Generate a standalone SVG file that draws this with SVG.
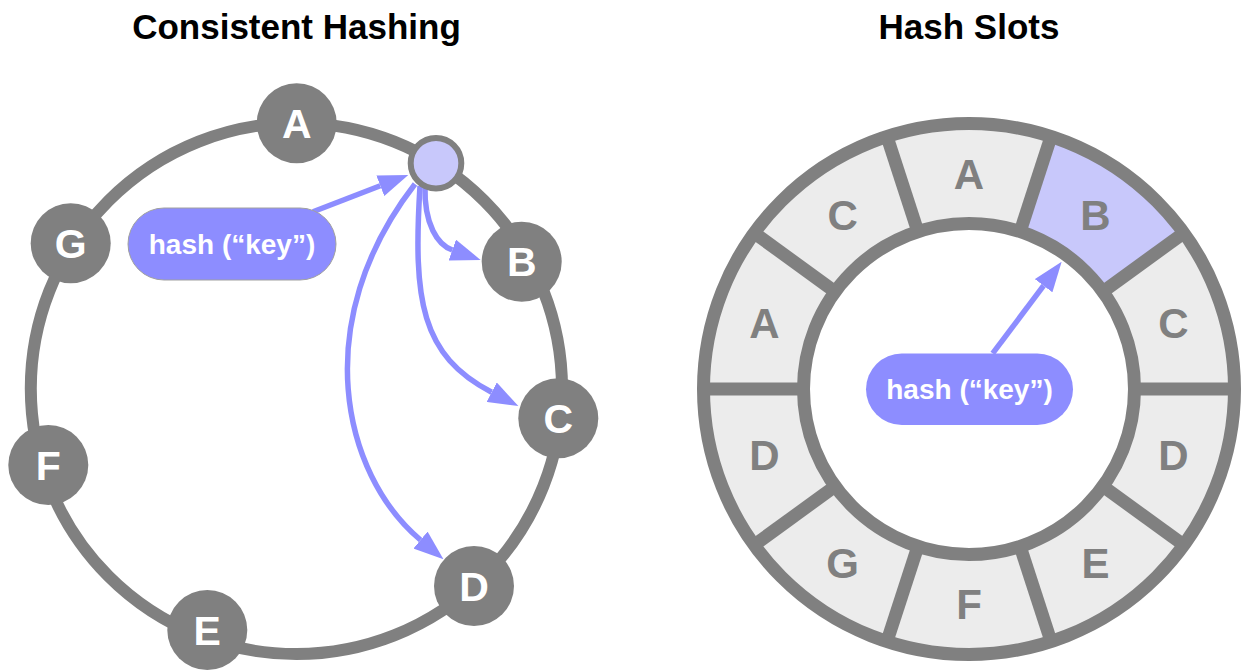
<svg xmlns="http://www.w3.org/2000/svg" width="1244" height="671" viewBox="0 0 1244 671">
<style>
  .title{font-family:"Liberation Sans",Arial,Helvetica,sans-serif;font-weight:bold;font-size:35px;fill:#000;text-anchor:middle}
  .ring{fill:none;stroke:#808080;stroke-width:12}
  .node circle{fill:#808080}
  .node text{font-family:"Liberation Sans",Arial,Helvetica,sans-serif;font-weight:bold;font-size:41px;fill:#fff;text-anchor:middle}
  .key circle{fill:#c8c8fb;stroke:#808080;stroke-width:6}
  .pill rect{fill:#8d8dff}
  .pill.outlined rect{stroke:#a0a0a0;stroke-width:1}
  .pill text{font-family:"Liberation Sans",Arial,Helvetica,sans-serif;font-weight:bold;font-size:28px;fill:#fff;text-anchor:middle}
  .conn{fill:none;stroke:#8d8dff;stroke-width:5.5;marker-end:url(#ah)}
  .slotline{fill:none;stroke:#808080;stroke-width:13}
  .slot text{font-family:"Liberation Sans",Arial,Helvetica,sans-serif;font-weight:bold;font-size:42px;fill:#808080;text-anchor:middle}
</style>
<defs>
  <marker id="ah" markerUnits="userSpaceOnUse" viewBox="0 0 30 22" markerWidth="30" markerHeight="22" refX="0" refY="11" orient="auto">
    <path d="M0,0 L30,11 L0,22 Z" fill="#8d8dff"/>
  </marker>
</defs>
<rect width="1244" height="671" fill="#fff"/>

<text class="title" x="296.5" y="39">Consistent Hashing</text>
<text class="title" x="969" y="39">Hash Slots</text>

<!-- Left: consistent hashing ring -->
<circle id="ring" class="ring" cx="296.4" cy="388.5" r="265.6"/>

<!-- Right: hash slots -->
<g id="slots" class="slot">
  <circle cx="969" cy="389" r="265.5" fill="#ececec"/>
  <path id="slot-B-fill" d="M1051.0,136.5 A265.5,265.5 0 0 1 1183.8,232.9 L1102.9,291.7 A165.5,165.5 0 0 0 1020.1,231.6 Z" fill="#c8c8fb"/>
  <circle cx="969" cy="389" r="165.5" fill="#fff"/>
  <circle class="slotline" cx="969" cy="389" r="265.5"/>
  <circle class="slotline" cx="969" cy="389" r="165.5"/>
  <line class="slotline" x1="1134.5" y1="389" x2="1234.5" y2="389"/>
  <line class="slotline" x1="1134.5" y1="389" x2="1234.5" y2="389" transform="rotate(-36 969 389)"/>
  <line class="slotline" x1="1134.5" y1="389" x2="1234.5" y2="389" transform="rotate(-72 969 389)"/>
  <line class="slotline" x1="1134.5" y1="389" x2="1234.5" y2="389" transform="rotate(-108 969 389)"/>
  <line class="slotline" x1="1134.5" y1="389" x2="1234.5" y2="389" transform="rotate(-144 969 389)"/>
  <line class="slotline" x1="1134.5" y1="389" x2="1234.5" y2="389" transform="rotate(180 969 389)"/>
  <line class="slotline" x1="1134.5" y1="389" x2="1234.5" y2="389" transform="rotate(144 969 389)"/>
  <line class="slotline" x1="1134.5" y1="389" x2="1234.5" y2="389" transform="rotate(108 969 389)"/>
  <line class="slotline" x1="1134.5" y1="389" x2="1234.5" y2="389" transform="rotate(72 969 389)"/>
  <line class="slotline" x1="1134.5" y1="389" x2="1234.5" y2="389" transform="rotate(36 969 389)"/>
  <text x="969" y="189">A</text>
  <text x="1095.4" y="230.1">B</text>
  <text x="1173.5" y="337.6">C</text>
  <text x="1173.5" y="470.4">D</text>
  <text x="1095.4" y="577.9">E</text>
  <text x="969" y="619">F</text>
  <text x="842.6" y="577.9">G</text>
  <text x="764.5" y="470.4">D</text>
  <text x="764.5" y="337.6">A</text>
  <text x="842.6" y="230.1">C</text>
</g>

<g id="connectors">
  <path class="conn" d="M313,211.7 L380.3,185.8"/>
  <path class="conn" d="M425,186 C424,225 438,245 452.3,250"/>
  <path class="conn" d="M420,186 C413,300 420.7,355.4 491.7,392.2"/>
  <path class="conn" d="M415,184 C308,322 342,474 420.5,540"/>
  <path class="conn" d="M992.7,353.3 L1043.6,285.7"/>
</g>

<g id="node-A" class="node"><circle cx="296.7" cy="123.3" r="40"/><text x="296.7" y="138">A</text></g>
<g id="node-B" class="node"><circle cx="521.7" cy="261.7" r="40"/><text x="521.7" y="276.4">B</text></g>
<g id="node-C" class="node"><circle cx="558.3" cy="418.3" r="40"/><text x="558.3" y="433">C</text></g>
<g id="node-D" class="node"><circle cx="474" cy="586" r="40"/><text x="474" y="600.7">D</text></g>
<g id="node-E" class="node"><circle cx="207.3" cy="630" r="40"/><text x="207.3" y="644.7">E</text></g>
<g id="node-F" class="node"><circle cx="48.3" cy="465" r="40"/><text x="48.3" y="479.7">F</text></g>
<g id="node-G" class="node"><circle cx="70.7" cy="243.3" r="40"/><text x="70.7" y="258">G</text></g>
<g id="node-key" class="key"><circle cx="436" cy="163.3" r="25.3"/></g>

<g id="pill-left" class="pill outlined"><rect x="128" y="208" width="208" height="72" rx="36" ry="36"/><text x="232" y="253.5">hash (“key”)</text></g>
<g id="pill-right" class="pill"><rect x="866" y="353.5" width="207" height="71.5" rx="35.75" ry="35.75"/><text x="969.5" y="399">hash (“key”)</text></g>
</svg>
